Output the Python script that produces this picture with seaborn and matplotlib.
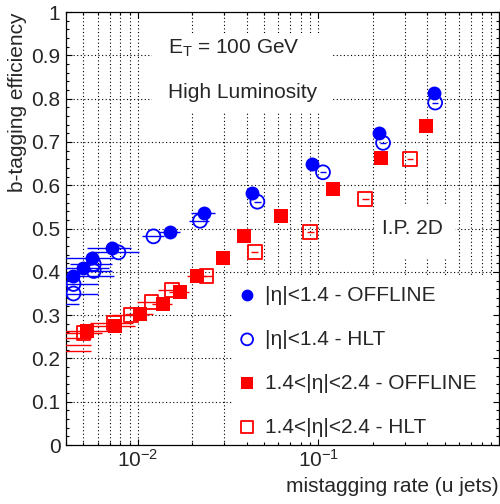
import numpy as np
import pandas as pd
import matplotlib
matplotlib.use("Agg")
import matplotlib.pyplot as plt
import matplotlib.ticker as mticker
from matplotlib.patches import Rectangle
import seaborn as sns

# Data (mistagging rate vs b-tagging efficiency)
blue_off_x = [0.0044, 0.0050, 0.00555, 0.0072, 0.0151, 0.0232, 0.0430, 0.0923, 0.217, 0.437]
blue_off_y = [0.390, 0.408, 0.433, 0.456, 0.491, 0.536, 0.581, 0.650, 0.720, 0.812]
blue_off_xerr = [0.0030, 0.0019, 0.0017, 0.0020, 0.0021, 0.0035, 0.002, 0.004, 0.008, 0.015]

blue_hlt_x = [0.0030, 0.0044, 0.0044, 0.0057, 0.0057, 0.0078, 0.0122, 0.0221, 0.0459, 0.106, 0.228, 0.443]
blue_hlt_y = [0.326, 0.350, 0.372, 0.402, 0.418, 0.445, 0.482, 0.518, 0.562, 0.630, 0.698, 0.791]
blue_hlt_xerr = [0.0017, 0.0016, 0.0016, 0.0015, 0.0015, 0.0023, 0.0017, 0.0028, 0.002, 0.004, 0.008, 0.015]

red_off_x = [0.0030, 0.0052, 0.0075, 0.0103, 0.0137, 0.0171, 0.0212, 0.0297, 0.0387, 0.0622, 0.120, 0.223, 0.394]
red_off_y = [0.247, 0.263, 0.275, 0.303, 0.326, 0.354, 0.390, 0.431, 0.483, 0.530, 0.591, 0.662, 0.737]
red_off_xerr = [0.0025, 0.0017, 0.0022, 0.0018, 0.0017, 0.0022, 0.0025, 0.002, 0.002, 0.003, 0.006, 0.01, 0.015]

red_hlt_x = [0.0030, 0.0030, 0.0050, 0.0074, 0.0092, 0.0119, 0.0155, 0.0240, 0.0443, 0.0903, 0.182, 0.322]
red_hlt_y = [0.232, 0.217, 0.258, 0.281, 0.300, 0.330, 0.358, 0.390, 0.445, 0.493, 0.568, 0.660]
red_hlt_xerr = [0.0025, 0.0025, 0.0013, 0.002, 0.002, 0.002, 0.0025, 0.002, 0.002, 0.004, 0.008, 0.012]

legend_labels = ["|η|<1.4 - OFFLINE", "|η|<1.4 - HLT",
                 "1.4<|η|<2.4 - OFFLINE", "1.4<|η|<2.4 - HLT"]

sns.set_style("ticks")
plt.rcParams['font.family'] = ['Liberation Sans', 'DejaVu Sans']
plt.rcParams['mathtext.fontset'] = 'custom'
plt.rcParams['mathtext.rm'] = 'Liberation Sans'
plt.rcParams['mathtext.it'] = 'Liberation Sans:italic'
plt.rcParams['mathtext.default'] = 'regular'

FS = 15

fig = plt.figure(figsize=(5.0, 5.04), dpi=100)
ax = fig.add_axes([0.132, 0.117, 0.866, 0.859])
ax.set_xscale('log')
ax.set_xlim(0.004, 1)
ax.set_ylim(0, 1)

ax.xaxis.set_major_locator(mticker.FixedLocator([0.01, 0.1]))
ax.xaxis.set_major_formatter(mticker.FixedFormatter([r'$10^{-2}$', r'$10^{-1}$']))
ax.xaxis.set_minor_locator(mticker.LogLocator(base=10, subs=np.arange(2, 10)))
ax.xaxis.set_minor_formatter(mticker.NullFormatter())
ax.yaxis.set_major_locator(mticker.MultipleLocator(0.1))
ax.yaxis.set_minor_locator(mticker.MultipleLocator(0.02))
ax.yaxis.set_major_formatter(mticker.FuncFormatter(lambda v, p: f"{v:g}"))

ax.set_axisbelow(False)
ax.tick_params(which='both', direction='in', top=True, right=True,
               labelsize=FS, color='black', width=0.8)
ax.tick_params(which='major', length=4.5)
ax.tick_params(which='minor', length=2.3)
ax.tick_params(axis='y', pad=4.0)
ax.tick_params(axis='x', pad=2.5)
for sp in ax.spines.values():
    sp.set_linewidth(0.9)
    sp.set_color('black')

# dotted grid: every x tick (major + minor), major y ticks only
xg = [v for v in list(ax.get_xticks()) + list(ax.get_xticks(minor=True)) if 0.004 < v < 1]
for v in xg:
    ax.axvline(v, color='black', ls=(0, (1, 2.2)), lw=0.8, zorder=1)
for v in ax.get_yticks():
    if 0 < v < 1:
        ax.axhline(v, color='black', ls=(0, (1, 2.2)), lw=0.8, zorder=1)

# white boxes that hide the grid under the texts and legend
for (x0, y0, w, h) in [(0.199, 0.767, 0.418, 0.185), (0.714, 0.430, 0.185, 0.122),
                       (0.383, 0.0, 0.617, 0.393)]:
    ax.add_patch(Rectangle((x0, y0), w, h, transform=ax.transAxes,
                           facecolor='white', edgecolor='none', zorder=2))

series = [
    (blue_hlt_x, blue_hlt_y, blue_hlt_xerr, 'blue', 'o', False, legend_labels[1]),
    (red_hlt_x, red_hlt_y, red_hlt_xerr, 'red', 's', False, legend_labels[3]),
    (blue_off_x, blue_off_y, blue_off_xerr, 'blue', 'o', True, legend_labels[0]),
    (red_off_x, red_off_y, red_off_xerr, 'red', 's', True, legend_labels[2]),
]
handles = {}
for xs, ys, xe, col, mk, filled, lab in series:
    df = pd.DataFrame({'x': xs, 'y': ys, 'xerr': xe})
    ax.errorbar(df['x'], df['y'], xerr=df['xerr'], fmt='none', ecolor=col,
                elinewidth=1.0, capsize=0, zorder=3)
    sns.scatterplot(data=df, x='x', y='y', ax=ax, marker=mk, s=100, color=col,
                    facecolor=col if filled else 'none', edgecolor=col,
                    linewidth=0 if filled else 1.3, zorder=4 if filled else 3.5,
                    legend=False)
    handles[lab] = ax.collections[-1]

ax.legend([handles[l] for l in legend_labels], legend_labels, loc='upper left',
          bbox_to_anchor=(0.375, 0.387), borderaxespad=0, borderpad=0.4,
          handlelength=1.0, handletextpad=0.37, labelspacing=1.2,
          frameon=False, fontsize=FS, markerscale=0.85, scatterpoints=1)

ax.text(0.236, 0.917, r'$\mathrm{E_T}$ = 100 GeV', transform=ax.transAxes,
        fontsize=FS, va='center', ha='left', zorder=5)
ax.text(0.236, 0.815, 'High Luminosity', transform=ax.transAxes,
        fontsize=FS, va='center', ha='left', zorder=5)
ax.text(0.730, 0.501, 'I.P. 2D', transform=ax.transAxes,
        fontsize=FS, va='center', ha='left', zorder=5)

ax.set_ylabel('b-tagging efficiency', fontsize=FS, loc='top')
ax.yaxis.set_label_coords(-0.09, 1.0)
ax.set_xlabel('mistagging rate (u jets)', fontsize=FS, loc='right')
ax.xaxis.set_label_coords(1.0, -0.074)

fig.savefig('out.png', dpi=100)
